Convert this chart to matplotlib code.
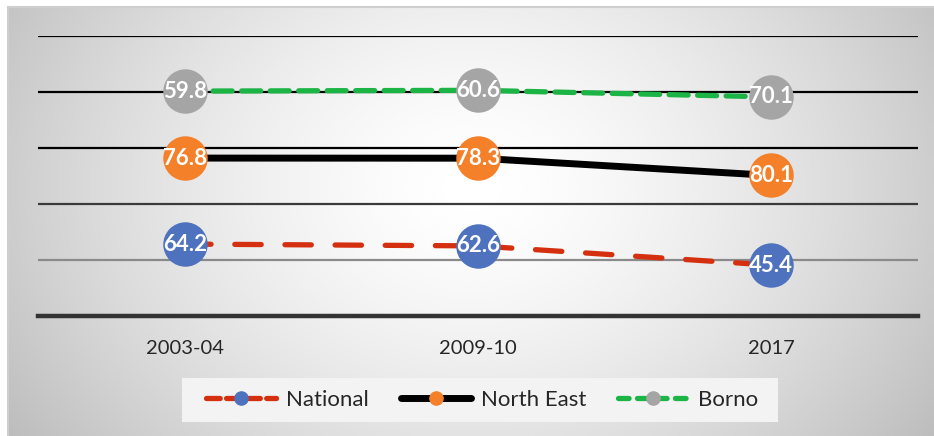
import numpy as np
import matplotlib.pyplot as plt
from matplotlib.lines import Line2D
from matplotlib.patches import Rectangle

plt.rcParams['font.family'] = ['Lato', 'DejaVu Sans']

periods = ["2003-04", "2009-10", "2017"]
national = [64.2, 62.6, 45.4]
north_east = [76.8, 78.3, 80.1]
borno = [59.8, 60.6, 70.1]

series_names = ["National", "North East", "Borno"]
line_colors = ["#d4300f", "#000000", "#1db446"]
marker_colors = ["#4e72bd", "#f4802a", "#a5a5a5"]

W, H = 934, 436
fig = plt.figure(figsize=(W / 100, H / 100), dpi=100)

# radial-gradient panel behind the chart
bg = fig.add_axes([8 / W, 0, 1 - 8 / W, 1 - 7 / H])
bg.set_axis_off()
yy, xx = np.mgrid[0:200, 0:400]
cx, cy = 200 * 0.5, 100 * 0.42
d = np.sqrt(((xx - cx * 2) / 400) ** 2 * 1.0 + ((yy - cy * 2) / 200) ** 2 * 0.35)
d = d / d.max()
shade = 1.0 - 0.26 * np.clip(d, 0, 1) ** 1.5
bg.imshow(shade, cmap="gray", vmin=0, vmax=1, aspect="auto",
          extent=[0, 1, 0, 1], interpolation="bicubic")
bg.set_xlim(0, 1)
bg.set_ylim(0, 1)
fig.add_artist(Line2D([8 / W, 1], [1 - 7 / H, 1 - 7 / H], color="#cfcfcf", lw=1.5))
fig.add_artist(Line2D([8 / W, 8 / W], [0, 1 - 7 / H], color="#cfcfcf", lw=1.5))

ax = fig.add_axes([38 / W, 1 - 316 / H, 880 / W, 280 / H])
ax.set_facecolor("none")
ax.set_xlim(-0.5, 2.5)
ax.set_ylim(0, 250)

grid_colors = {50: "#8a8a8a", 100: "#3a3a3a", 150: "#000000", 200: "#000000", 250: "#000000"}
for yv, c in grid_colors.items():
    ax.axhline(yv, color=c, lw=1.6, zorder=1)

for s in ["top", "right", "left"]:
    ax.spines[s].set_visible(False)
ax.spines["bottom"].set_color("#333333")
ax.spines["bottom"].set_linewidth(3.2)
ax.set_yticks([])
x = np.arange(len(periods))
ax.set_xticks(x)
ax.set_xticklabels(periods, fontsize=14.5, color="#262626")
ax.tick_params(axis="x", length=0, pad=17)

# stacked lines: each series sits on top of the previous ones
values = [national, north_east, borno]
stacked = np.cumsum(np.array(values), axis=0)
styles = [
    dict(lw=3.8, dashes=(5, 4.5), solid_capstyle="round", dash_capstyle="round"),
    dict(lw=5.0, solid_capstyle="butt"),
    dict(lw=3.8, dashes=(3.6, 1.8), dash_capstyle="round"),
]
for i, name in enumerate(series_names):
    ax.plot(x, stacked[i], color=line_colors[i], zorder=3, **styles[i])
    ax.plot(x, stacked[i], ls="none", marker="o", ms=32, mfc=marker_colors[i],
            mec="none", zorder=4)
    for xi, yi, v in zip(x, stacked[i], values[i]):
        ax.text(xi, yi, f"{v:.1f}", ha="center", va="center", color="white",
                fontsize=16, fontweight="bold", zorder=5)

handles = []
for i, name in enumerate(series_names):
    kw = dict(color=line_colors[i], marker="o", markersize=9.5,
              markerfacecolor=marker_colors[i], markeredgecolor=marker_colors[i],
              lw=styles[i]["lw"])
    if "dashes" in styles[i]:
        kw["dashes"] = (2.6, 1.2) if i == 0 else (2.0, 1.6)
        kw["dash_capstyle"] = "round"
    else:
        kw["solid_capstyle"] = "round"
    handles.append(Line2D([], [], **kw))

# legend panel
fig.add_artist(Rectangle((182 / W, 1 - 422 / H), 596 / W, 44 / H,
                         transform=fig.transFigure, facecolor="#f3f3f3",
                         edgecolor="none", zorder=0.5))
leg = fig.legend(handles, series_names, loc="center",
                 bbox_to_anchor=(482 / W, 1 - 400 / H), ncol=3, fontsize=16,
                 frameon=False, handlelength=3.15,
                 columnspacing=1.45, handletextpad=0.45)
for t in leg.get_texts():
    t.set_color("#262626")

fig.savefig("out.png", dpi=100)
